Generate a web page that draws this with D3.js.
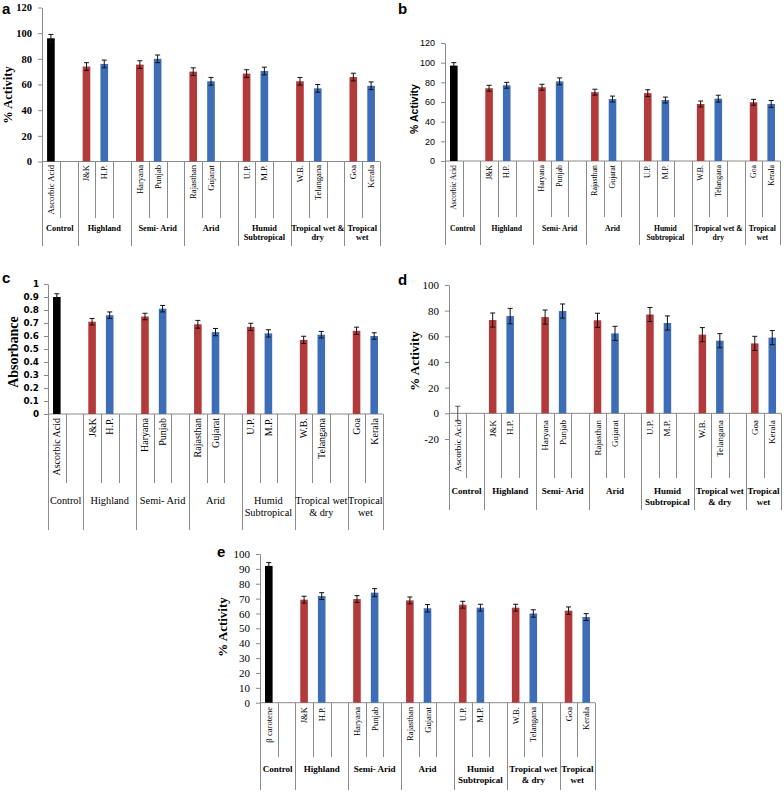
<!DOCTYPE html>
<html>
<head>
<meta charset="utf-8">
<script src="https://cdn.jsdelivr.net/npm/d3@7"></script>
<style>
  html, body { margin: 0; padding: 0; background: #fff; }
  svg { display: block; }
</style>
</head>
<body>
<svg id="chart" width="784" height="792"></svg>
<script>
// ---------------- DATA ----------------
const categories = ["Ascorbic Acid", "J&K", "H.P.", "Haryana", "Punjab", "Rajasthan", "Gujarat",
  "U.P.", "M.P.", "W.B.", "Telangana", "Goa", "Kerala"];
const categoriesE = ["β carotene", "J&K", "H.P.", "Haryana", "Punjab", "Rajasthan", "Gujarat",
  "U.P.", "M.P.", "W.B.", "Telangana", "Goa", "Kerala"];
const groupSizes = [1, 2, 2, 2, 2, 2, 2];
const groupLinesAB = [["Control"], ["Highland"], ["Semi- Arid"], ["Arid"], ["Humid", "Subtropical"],
  ["Tropical wet &", "dry"], ["Tropical", "wet"]];
const groupLinesCDE = [["Control"], ["Highland"], ["Semi- Arid"], ["Arid"], ["Humid", "Subtropical"],
  ["Tropical wet", "& dry"], ["Tropical", "wet"]];

const activityA = [96, 74, 76, 75.5, 80, 70, 62.5, 68.5, 70.5, 62.5, 57, 65.8, 59];
const errorA    = [3, 3, 3, 3, 3, 3, 3, 3, 3, 3, 3, 3, 3];
const activityB = [97, 74, 77, 75, 81, 70, 63, 69, 62, 58, 63.4, 59.7, 58];
const errorB    = [3, 3, 3, 3, 3.5, 3, 3, 3.5, 3, 3, 3.5, 3, 3.5];
const absorbanceC = [0.90, 0.71, 0.76, 0.75, 0.81, 0.69, 0.63, 0.67, 0.62, 0.57, 0.61, 0.64, 0.60];
const errorC      = [0.025, 0.025, 0.025, 0.025, 0.025, 0.03, 0.028, 0.028, 0.028, 0.028, 0.025, 0.028, 0.025];
const activityD = [0, 72.7, 75.8, 75, 79.7, 72.5, 62.3, 77, 70.4, 61.3, 56.6, 54.5, 59];
const errorD    = [5.5, 5.5, 6, 5.5, 5.5, 5.5, 5.5, 5.5, 5.5, 5.5, 5.5, 5.5, 5.5];
const activityE = [92, 69.3, 71.7, 69.7, 74, 68.8, 63.5, 65.9, 63.9, 63.9, 60, 61.9, 57.6];
const errorE    = [2.2, 2.3, 2.3, 2.3, 2.7, 2.3, 2.5, 2.3, 2.3, 2.3, 2.5, 2.5, 2.3];

const ticksA = [0, 20, 40, 60, 80, 100, 120];
const ticksB = [0, 20, 40, 60, 80, 100, 120];
const ticksC = [0, 0.1, 0.2, 0.3, 0.4, 0.5, 0.6, 0.7, 0.8, 0.9, 1];
const ticksD = [-20, 0, 20, 40, 60, 80, 100];
const ticksE = [0, 10, 20, 30, 40, 50, 60, 70, 80, 90, 100];

// ---------------- RENDER ----------------
const SERIF = "'Liberation Serif', 'Times New Roman', serif";
const SANS = "'Liberation Sans', Arial, sans-serif";
const COL_CTRL = "#000000", COL_RED = "#B23A3A", COL_BLUE = "#3D6DB6", AXIS = "#8a8a8a";

const svg = d3.select("#chart");
svg.append("rect").attr("width", 784).attr("height", 792).attr("fill", "#fff");

function buildSlots(cats) {
  const slots = [], groups = [];
  let k = 0;
  groupSizes.forEach((n, gi) => {
    const start = slots.length;
    for (let j = 0; j < n; j++) slots.push({ key: "c" + k, cat: cats[k], idx: k++, member: j, group: gi });
    if (gi < groupSizes.length - 1) slots.push({ key: "gap" + gi, cat: null, group: gi });
    groups.push({ start, end: slots.length });
  });
  return { slots, groups };
}

function drawPanel(o) {
  const g = svg.append("g");
  const { slots, groups } = buildSlots(o.cats);
  const x = d3.scaleBand().domain(slots.map(s => s.key)).range([o.x0, o.x1]).paddingInner(0).paddingOuter(0);
  const y = d3.scaleLinear().domain(o.domain).range([o.yBottom, o.yTop]);
  const bw = x.bandwidth();
  const barW = bw * 0.43;
  const yZero = y(0);

  // panel letter
  g.append("text").attr("x", o.letterX).attr("y", o.letterY).text(o.letter)
    .attr("font-family", SANS).attr("font-weight", "bold").attr("font-size", 15).attr("fill", "#000");

  // y axis
  const ax = g.append("g").attr("transform", `translate(${o.x0},0)`)
    .call(d3.axisLeft(y).tickValues(o.ticks).tickSize(4).tickSizeOuter(0).tickPadding(o.tickPad || 6)
      .tickFormat(d => String(d)));
  ax.select(".domain").attr("stroke", AXIS);
  ax.selectAll(".tick line").attr("stroke", AXIS);
  ax.selectAll(".tick text").attr("font-family", o.tickFont).attr("font-size", o.tickSize)
    .attr("font-weight", o.tickWeight).attr("fill", "#000");

  // axis title
  g.append("text").attr("transform", `translate(${o.titleX},${o.titleY}) rotate(-90)`)
    .attr("text-anchor", "middle").attr("dominant-baseline", "central")
    .attr("font-family", o.titleFont).attr("font-weight", "bold").attr("font-size", o.titleSize)
    .text(o.title);

  // category axis line
  g.append("line").attr("x1", o.x0).attr("x2", o.x1).attr("y1", yZero).attr("y2", yZero)
    .attr("stroke", AXIS);

  // dividers
  const groupEdges = new Set([0]);
  groups.forEach(gr => groupEdges.add(gr.end));
  for (let i = 0; i <= slots.length; i++) {
    const xp = Math.round(o.x0 + i * bw) + 0.5;
    g.append("line").attr("x1", xp).attr("x2", xp).attr("y1", yZero)
      .attr("y2", groupEdges.has(i) ? o.boundBottom : o.slotBottom).attr("stroke", AXIS);
  }

  // bars
  const dataSlots = slots.filter(s => s.cat !== null);
  dataSlots.forEach(s => {
    const v = o.values[s.idx], e = o.errors[s.idx];
    const cx = x(s.key) + bw / 2;
    const col = s.group === 0 ? COL_CTRL : (s.member === 0 ? COL_RED : COL_BLUE);
    g.append("rect").attr("x", cx - barW / 2).attr("width", barW)
      .attr("y", Math.min(y(v), yZero)).attr("height", Math.abs(yZero - y(v))).attr("fill", col);
    const eb = g.append("g").attr("stroke", s.group === 0 && v === 0 ? "#555" : "#111").attr("stroke-width", 1);
    eb.append("line").attr("x1", cx).attr("x2", cx).attr("y1", y(v - e)).attr("y2", y(v + e));
    eb.append("line").attr("x1", cx - 2.5).attr("x2", cx + 2.5).attr("y1", y(v + e)).attr("y2", y(v + e));
    eb.append("line").attr("x1", cx - 2.5).attr("x2", cx + 2.5).attr("y1", y(v - e)).attr("y2", y(v - e));
    // category label
    g.append("text").attr("transform", `translate(${cx},${o.catTop}) rotate(-90)`)
      .attr("text-anchor", "end").attr("dominant-baseline", "central")
      .attr("font-family", SERIF).attr("font-size", o.catSize).attr("fill", "#000")
      .text(s.cat);
  });

  // group labels
  groups.forEach((gr, gi) => {
    const cx = o.x0 + (gr.start + gr.end) / 2 * bw;
    const lines = o.groupLines[gi];
    const t = g.append("text").attr("text-anchor", "middle")
      .attr("font-family", SERIF).attr("font-size", o.groupSize).attr("font-weight", o.groupWeight)
      .attr("fill", "#000");
    lines.forEach((ln, li) => {
      t.append("tspan").attr("x", cx).attr("y", o.groupY + li * o.groupGap).attr("dominant-baseline", "central").text(ln);
    });
  });
}

// Panel a
drawPanel({
  letter: "a", letterX: 2, letterY: 14,
  cats: categories, values: activityA, errors: errorA, ticks: ticksA, domain: [0, 120],
  x0: 42, x1: 380, yBottom: 161.5, yTop: 7.5,
  tickFont: SERIF, tickSize: 10.5, tickWeight: "bold",
  title: "% Activity", titleFont: SERIF, titleSize: 12.5, titleX: 8, titleY: 95,
  catTop: 165, catSize: 8.6, slotBottom: 218, boundBottom: 246,
  groupLines: groupLinesAB, groupY: 228, groupGap: 9.5, groupSize: 8.3, groupWeight: "bold"
});

// Panel b
drawPanel({
  letter: "b", letterX: 398, letterY: 14,
  cats: categories, values: activityB, errors: errorB, ticks: ticksB, domain: [0, 120],
  x0: 445, x1: 780, yBottom: 161, yTop: 43,
  tickFont: SANS, tickSize: 9, tickWeight: "normal",
  title: "% Activity", titleFont: SANS, titleSize: 10.5, titleX: 414, titleY: 109,
  catTop: 165, catSize: 7.8, slotBottom: 217, boundBottom: 245,
  groupLines: groupLinesAB, groupY: 228, groupGap: 9, groupSize: 7.6, groupWeight: "bold"
});

// Panel c
drawPanel({
  letter: "c", letterX: 2, letterY: 283,
  cats: categories, values: absorbanceC, errors: errorC, ticks: ticksC, domain: [0, 1],
  x0: 48, x1: 383, yBottom: 414, yTop: 284,
  tickFont: "'DejaVu Sans', Verdana, sans-serif", tickSize: 8.8, tickWeight: "bold", tickPad: 5,
  title: "Absorbance", titleFont: SERIF, titleSize: 14, titleX: 13, titleY: 352,
  catTop: 418, catSize: 10, slotBottom: 483, boundBottom: 530,
  groupLines: groupLinesCDE, groupY: 500, groupGap: 12, groupSize: 10.3, groupWeight: "normal"
});

// Panel d
drawPanel({
  letter: "d", letterX: 398, letterY: 285,
  cats: categories, values: activityD, errors: errorD, ticks: ticksD, domain: [-20, 100],
  x0: 449, x1: 781, yBottom: 439, yTop: 285,
  tickFont: SERIF, tickSize: 11, tickWeight: "normal",
  title: "% Activity", titleFont: SERIF, titleSize: 13, titleX: 414, titleY: 361,
  catTop: 420, catSize: 9, slotBottom: 478, boundBottom: 510,
  groupLines: groupLinesCDE, groupY: 491, groupGap: 11, groupSize: 9, groupWeight: "bold"
});

// Panel e
drawPanel({
  letter: "e", letterX: 217, letterY: 557,
  cats: categoriesE, values: activityE, errors: errorE, ticks: ticksE, domain: [0, 100],
  x0: 260, x1: 595, yBottom: 702.7, yTop: 554,
  tickFont: SERIF, tickSize: 11, tickWeight: "normal",
  title: "% Activity", titleFont: SERIF, titleSize: 13, titleX: 222, titleY: 627,
  catTop: 707, catSize: 8.6, slotBottom: 757, boundBottom: 790,
  groupLines: groupLinesCDE, groupY: 769, groupGap: 11, groupSize: 9, groupWeight: "bold"
});
</script>
</body>
</html>
